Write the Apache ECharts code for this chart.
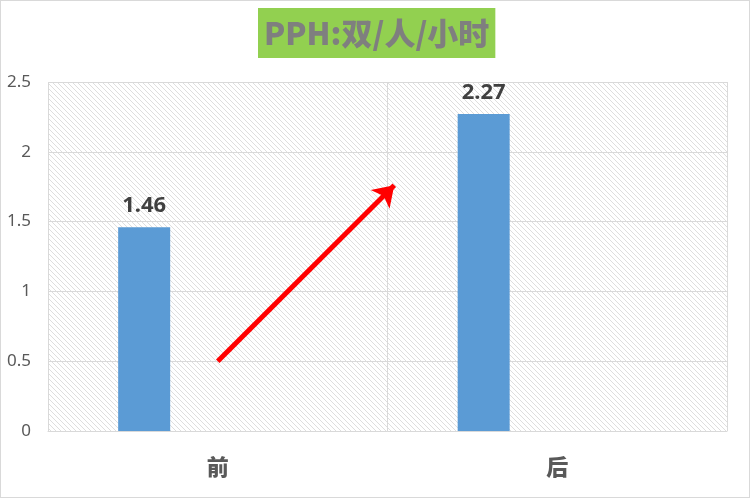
<!DOCTYPE html>
<html>
<head>
<meta charset="utf-8">
<script src="https://cdn.jsdelivr.net/npm/echarts@6/dist/echarts.min.js"></script>
<style>
  html, body { margin: 0; padding: 0; background: #fff; }
  #chart { width: 750px; height: 498px; box-sizing: border-box; border: 1px solid #d9d9d9; }
</style>
</head>
<body>
<div id="chart"></div>
<script>
// data
const categories = ['前', '后'];
const pph = [1.46, 2.27];
const emptySeries = [null, null];
const arrowFrom = [0, 0.5];
const arrowTo = [0.52, 1.76];
const yMin = 0, yMax = 2.5, yStep = 0.5;

// hatched background for the plot area
function hatch() {
  const s = 5;
  const c = document.createElement('canvas');
  c.width = s; c.height = s;
  const ctx = c.getContext('2d');
  ctx.fillStyle = '#ffffff';
  ctx.fillRect(0, 0, s, s);
  ctx.strokeStyle = '#dedede';
  ctx.lineWidth = 1;
  ctx.beginPath();
  ctx.moveTo(-1, -1); ctx.lineTo(s + 1, s + 1);
  ctx.moveTo(-1, s - 1); ctx.lineTo(1, s + 1);
  ctx.moveTo(s - 1, -1); ctx.lineTo(s + 1, 1);
  ctx.stroke();
  return c;
}

let myChart = echarts.init(document.getElementById('chart'));
myChart.setOption({
  animation: false,
  title: {
    text: 'PPH:双/人/小时',
    left: 257,
    top: 7,
    padding: [10, 6, 9, 6],
    backgroundColor: '#92d050',
    textStyle: {
      fontFamily: 'Noto Sans CJK SC',
      fontSize: 31,
      fontWeight: 900,
      color: '#7f7f7f'
    }
  },
  grid: {
    left: 47,
    right: 22,
    top: 81,
    bottom: 66,
    show: true,
    borderWidth: 0,
    backgroundColor: { image: hatch(), repeat: 'repeat' }
  },
  xAxis: [{
    type: 'category',
    data: categories,
    axisTick: { show: false },
    axisLine: { lineStyle: { color: '#d9d9d9' } },
    splitLine: { show: true, lineStyle: { color: '#d9d9d9' } },
    axisLabel: {
      margin: 25,
      fontFamily: 'Noto Sans CJK SC',
      fontSize: 22,
      fontWeight: 900,
      color: '#595959'
    }
  }, {
    type: 'value',
    show: false,
    min: -0.5,
    max: 1.5
  }],
  yAxis: {
    type: 'value',
    min: yMin,
    max: yMax,
    interval: yStep,
    axisLine: { show: false },
    axisTick: { show: false },
    splitLine: { lineStyle: { color: '#d9d9d9' } },
    axisLabel: {
      margin: 17,
      fontFamily: 'Noto Sans',
      fontSize: 17,
      color: '#595959'
    }
  },
  series: [{
    type: 'bar',
    data: pph,
    barWidth: 52,
    barGap: '183%',
    itemStyle: { color: '#5b9bd5' },
    label: {
      show: true,
      position: 'top',
      distance: 10,
      fontFamily: 'Noto Sans',
      fontSize: 22,
      fontWeight: 'bold',
      color: '#404040'
    }
  }, {
    type: 'bar',
    data: emptySeries,
    barWidth: 52
  }, {
    type: 'lines',
    coordinateSystem: 'cartesian2d',
    xAxisIndex: 1,
    yAxisIndex: 0,
    z: 5,
    symbol: ['none', 'arrow'],
    symbolSize: 20,
    lineStyle: { color: '#ff0000', width: 5, opacity: 1, curveness: 0 },
    data: [{ coords: [arrowFrom, arrowTo] }]
  }]
});
</script>
</body>
</html>
